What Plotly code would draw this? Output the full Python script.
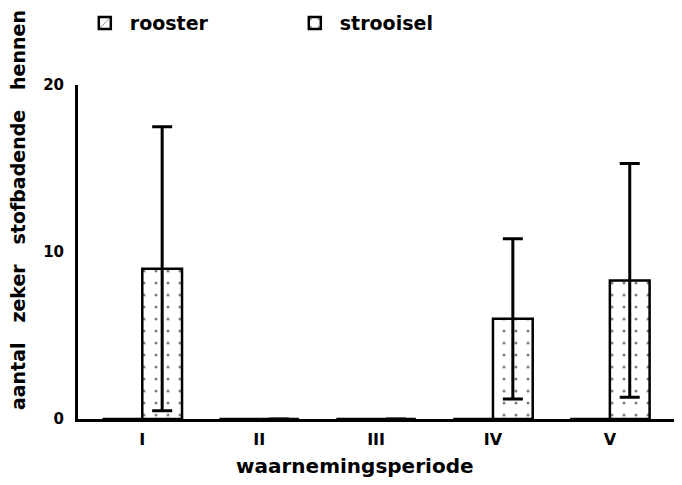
import plotly.graph_objects as go

periods = ["I", "II", "III", "IV", "V"]
rooster = [0, 0, 0, 0, 0]
strooisel = [9.0, 0, 0, 6.0, 8.3]
strooisel_err = [8.5, 0, 0, 4.8, 7.0]

FONT = "DejaVu Sans"

fig = go.Figure()
fig.add_trace(go.Bar(
    name="rooster", x=periods, y=rooster,
    marker=dict(color="white", line=dict(color="black", width=2.5),
                pattern=dict(shape="/", fgcolor="black", bgcolor="white", size=10, solidity=0.1)),
))
fig.add_trace(go.Bar(
    name="strooisel", x=periods, y=strooisel,
    error_y=dict(type="data", array=strooisel_err, visible=True, color="black", thickness=3, width=10),
    marker=dict(color="white", line=dict(color="black", width=2.5),
                pattern=dict(shape=".", fgcolor="black", bgcolor="white", size=12, solidity=0.05)),
))

fig.update_layout(
    width=674, height=477,
    margin=dict(l=70, r=2, t=77, b=66, autoexpand=False),
    paper_bgcolor="white", plot_bgcolor="white",
    barmode="group", bargap=0.32, bargroupgap=0,
    font=dict(family=FONT, color="black"),
    showlegend=True,
    legend=dict(orientation="h", x=0.003, y=1.185, xanchor="left", yanchor="middle",
                font=dict(size=19, family=FONT, weight="bold"),
                entrywidth=155, entrywidthmode="pixels", itemwidth=40),
    xaxis=dict(
        range=[-0.55, 4.6], showline=True, linecolor="black", linewidth=3,
        ticks="", showgrid=False, zeroline=False, automargin=False,
        tickfont=dict(size=16, family=FONT, weight="bold"), ticklabelstandoff=4,
    ),
    yaxis=dict(
        range=[0, 20], tickvals=[0, 10, 20], showline=True, linecolor="black", linewidth=3,
        ticks="", showgrid=False, zeroline=False, automargin=False,
        tickfont=dict(size=15, family=FONT, weight="bold"), ticklabelstandoff=8,
    ),
    annotations=[
        dict(text="waarnemingsperiode", xref="paper", yref="paper", x=0.46, y=-0.14,
             xanchor="center", yanchor="middle", showarrow=False,
             font=dict(size=20, family=FONT, weight="bold")),
        dict(text="aantal   zeker   stofbadende   hennen", xref="paper", yref="paper",
             x=-0.1, y=0.625, xanchor="center", yanchor="middle", textangle=-90, showarrow=False,
             font=dict(size=19, family=FONT, weight="bold")),
    ],
)

fig.write_html("out.html")
